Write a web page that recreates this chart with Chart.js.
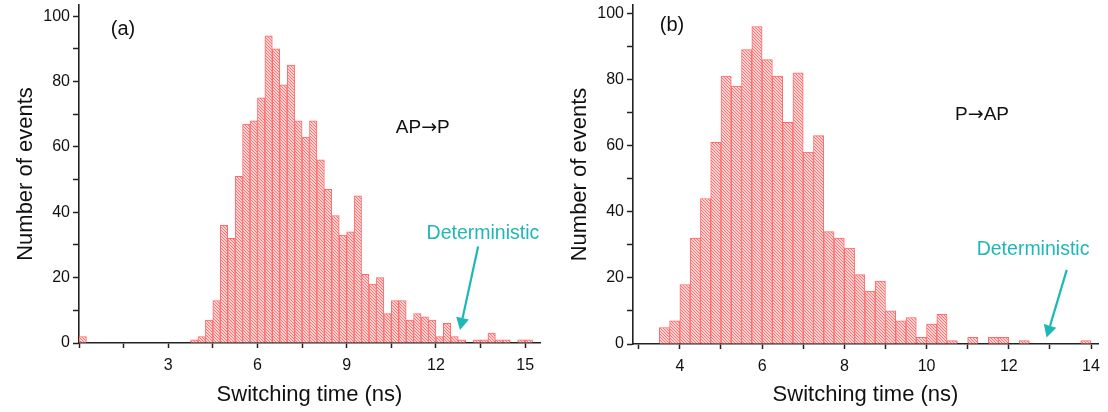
<!DOCTYPE html>
<html><head><meta charset="utf-8">
<script src="https://cdn.jsdelivr.net/npm/chart.js@4.4.1/dist/chart.umd.min.js"></script>
<style>
html,body{margin:0;padding:0;background:#fff;}
#wrap{position:relative;width:1108px;height:412px;overflow:hidden;}
.panel{position:absolute;top:0;height:412px;width:554px;}
#pa{left:0;}
#pb{left:554px;}
</style></head><body>
<div id="wrap"><div class="panel" id="pa"><canvas id="ca"></canvas></div><div class="panel" id="pb"><canvas id="cb"></canvas></div></div>
<script>
// ---------- data ----------
const binWidth = 0.25; // ns
// panel (a) AP->P : bin left edges (ns) and counts
const binsA = [0,0.25,0.5,0.75,1,1.25,1.5,1.75,2,2.25,2.5,2.75,3,3.25,3.5,3.75,4,4.25,4.5,4.75,5,5.25,5.5,5.75,6,6.25,6.5,6.75,7,7.25,7.5,7.75,8,8.25,8.5,8.75,9,9.25,9.5,9.75,10,10.25,10.5,10.75,11,11.25,11.5,11.75,12,12.25,12.5,12.75,13,13.25,13.5,13.75,14,14.25,14.5,14.75,15];
const countsA = [2,0,0,0,0,0,0,0,0,0,0,0,0,0,0,1,2,7,13,36,32,51,67,68,75,94,90,79,85,68,63,68,56,47,39,33,34,45,21,18,20,9,13,13,7,9,8,7,2,6,2,1,0,1,1,3,1,1,0,1,1];
// panel (b) P->AP
const binsB = [3.5,3.75,4,4.25,4.5,4.75,5,5.25,5.5,5.75,6,6.25,6.5,6.75,7,7.25,7.5,7.75,8,8.25,8.5,8.75,9,9.25,9.5,9.75,10,10.25,10.5,10.75,11,11.25,11.5,11.75,12,12.25,12.5,12.75,13,13.25,13.5,13.75];
const countsB = [5,7,18,32,44,61,81,78,89,96,86,81,67,82,58,63,34,32,29,21,16,19,10,7,8,2,6,9,1,0,2,0,2,2,0,1,0,0,0,0,0,1];
// tick labels
const xLabelsA = [3,6,9,12,15];
const xLabelsB = [4,6,8,10,12,14];
const yLabels = [0,20,40,60,80,100];

// ---------- styling ----------
const FONT = "'Liberation Sans', Arial, Helvetica, sans-serif";
const ARROWFONT = "'DejaVu Sans', sans-serif";
const TEAL = '#1fb7b7';
const AXIS = '#222';

function hatchPattern(){
  const n = 6;
  const c = document.createElement('canvas'); c.width = n; c.height = n;
  const g = c.getContext('2d');
  g.fillStyle = '#fff'; g.fillRect(0,0,n,n);
  g.strokeStyle = 'rgba(255,110,110,1)'; g.lineWidth = 1.15;
  g.beginPath();
  for (const o of [-6,-3,0,3,6]) { g.moveTo(o-1, -1); g.lineTo(o+n+1, n+1); }
  g.stroke();
  return g.createPattern(c, 'repeat');
}

// draws text pieces side by side (arrow glyph in a font that has a full-size arrow)
function drawPieces(ctx, pieces, cx, cy, size){
  let total = 0;
  const w = pieces.map(p => { ctx.font = size + 'px ' + (p.font || FONT); const m = ctx.measureText(p.t).width; total += m; return m; });
  let x = cx - total/2;
  ctx.textAlign = 'left'; ctx.textBaseline = 'middle';
  pieces.forEach((p,i) => { ctx.font = size + 'px ' + (p.font || FONT); ctx.fillText(p.t, x, cy); x += w[i]; });
}

const annot = {
  id: 'annot',
  afterDatasetsDraw(chart, args, o){
    const {ctx} = chart; const x = chart.scales.x, y = chart.scales.y;
    ctx.save();
    for (const t of o.texts){
      ctx.fillStyle = t.color;
      const pieces = t.text.split('\u2192').flatMap((s,i)=> i===0 ? [{t:s}] : [{t:'\u2192', font: ARROWFONT},{t:s}]);
      drawPieces(ctx, pieces, x.getPixelForValue(t.x), y.getPixelForValue(t.y), t.size);
    }
    for (const a of o.arrows){
      const x0 = x.getPixelForValue(a.x0), y0 = y.getPixelForValue(a.y0);
      const x1 = x.getPixelForValue(a.x1), y1 = y.getPixelForValue(a.y1);
      const ang = Math.atan2(y1-y0, x1-x0), L = 12, W = 6.5;
      const bx = x1 - L*Math.cos(ang), by = y1 - L*Math.sin(ang);
      ctx.strokeStyle = TEAL; ctx.fillStyle = TEAL; ctx.lineWidth = 2.2;
      ctx.beginPath(); ctx.moveTo(x0,y0); ctx.lineTo(bx,by); ctx.stroke();
      ctx.beginPath(); ctx.moveTo(x1,y1);
      ctx.lineTo(bx + W*Math.sin(ang), by - W*Math.cos(ang));
      ctx.lineTo(bx - W*Math.sin(ang), by + W*Math.cos(ang));
      ctx.closePath(); ctx.fill();
    }
    ctx.restore();
  }
};

function makeChart(id, bins, counts, cfg){
  const pattern = hatchPattern();
  const data = bins.map((b,i)=>({x: b + binWidth/2, y: counts[i]}));
  return new Chart(document.getElementById(id), {
    type: 'bar',
    data: { datasets: [{ data, backgroundColor: pattern, borderColor: '#ff6a6a', borderWidth: 1,
      borderSkipped: 'start', barPercentage: 1, categoryPercentage: 1 }] },
    plugins: [annot],
    options: {
      responsive: true, maintainAspectRatio: false, animation: false,
      layout: { padding: { top: cfg.top, right: cfg.right, left: 0, bottom: 0 } },
      plugins: { legend: {display:false}, tooltip: {enabled:false}, annot: cfg.annot },
      scales: {
        x: { type: 'linear', min: cfg.xmin, max: cfg.xmax, offset: false,
          afterFit(s){ s.height = cfg.xh; s.paddingLeft = 0; s.paddingRight = 0; },
          afterBuildTicks(s){ s.ticks = cfg.xTicks.map(v=>({value:v})); },
          ticks: { autoSkip: false, maxRotation: 0, padding: 8, color: '#111', font: {family: FONT, size: 16},
            callback: v => cfg.xLabels.some(l=>Math.abs(l-v)<1e-6) ? String(v) : '' },
          grid: { offset: false, drawOnChartArea: false, drawTicks: true, tickLength: 5, tickColor: AXIS, tickWidth: 1.5 },
          border: { display: true, color: AXIS, width: 1.6 },
          title: { display: true, text: 'Switching time (ns)', color: '#111', font: {family: FONT, size: 22}, padding: {top: 4, bottom: 4} }
        },
        y: { min: 0, max: cfg.ymax,
          afterFit(s){ s.width = 79; s.paddingTop = 0; s.paddingBottom = 0; },
          afterBuildTicks(s){ s.ticks = [0,10,20,30,40,50,60,70,80,90,100].map(v=>({value:v})); },
          ticks: { autoSkip: false, padding: 3, color: '#111', font: {family: FONT, size: 16},
            callback: v => yLabels.includes(v) ? String(v) : '' },
          grid: { drawOnChartArea: false, drawTicks: true, tickLength: 6, tickColor: AXIS, tickWidth: 1.5 },
          border: { display: true, color: AXIS, width: 1.6 },
          title: { display: true, text: 'Number of events', color: '#111', font: {family: FONT, size: 22}, padding: {top: 13, bottom: 4} }
        }
      }
    }
  });
}

makeChart('ca', binsA, countsA, {
  top: 5, right: 14, xh: 69, xmin: 0, xmax: 15.5, ymax: 103.4,
  xTicks: [0,1.5,3,4.5,6,7.5,9,10.5,12,13.5,15], xLabels: xLabelsA,
  annot: {
    texts: [
      {text:'(a)', x:1.48, y:95.8, size:20, color:'#111'},
      {text:'AP\u2192P', x:11.56, y:65.7, size:19, color:'#111'},
      {text:'Deterministic', x:13.58, y:33.6, size:19.5, color:TEAL}
    ],
    arrows: [{x0:13.42, y0:29.5, x1:12.81, y1:4.0}]
  }
});
makeChart('cb', binsB, countsB, {
  top: 5, right: 10, xh: 68, xmin: 2.86, xmax: 14.17, ymax: 102.5,
  xTicks: [3,4,5,6,7,8,9,10,11,12,13,14], xLabels: xLabelsB,
  annot: {
    texts: [
      {text:'(b)', x:3.81, y:96.2, size:20, color:'#111'},
      {text:'P\u2192AP', x:11.35, y:69.2, size:19, color:'#111'},
      {text:'Deterministic', x:12.59, y:28.6, size:19.5, color:TEAL}
    ],
    arrows: [{x0:13.41, y0:22.4, x1:12.92, y1:2.0}]
  }
});
</script>
</body></html>
